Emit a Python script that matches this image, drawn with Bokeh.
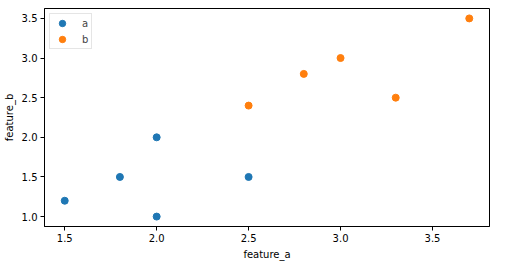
from bokeh.plotting import figure
from bokeh.models import FixedTicker, NumeralTickFormatter, Range1d, Legend, LegendItem
from bokeh.embed import file_html
from bokeh.resources import INLINE

a_x = [1.5, 1.8, 2.0, 2.0, 2.5]
a_y = [1.2, 1.5, 2.0, 1.0, 1.5]
b_x = [2.5, 2.8, 3.0, 3.3, 3.7]
b_y = [2.4, 2.8, 3.0, 2.5, 3.5]
x_ticks = [1.5, 2.0, 2.5, 3.0, 3.5]
y_ticks = [1.0, 1.5, 2.0, 2.5, 3.0, 3.5]

p = figure(width=509, height=268, output_backend="svg", toolbar_location=None,
           x_range=Range1d(1.39, 3.81), y_range=Range1d(0.875, 3.625),
           min_border_left=42, min_border_right=20, min_border_top=8, min_border_bottom=42)
p.xgrid.visible = False
p.ygrid.visible = False
p.outline_line_color = "black"
p.outline_line_width = 1
p.background_fill_color = "white"
p.border_fill_color = "white"

ra = p.scatter(a_x, a_y, size=7, color="#1f77b4", line_color="#1f77b4")
rb = p.scatter(b_x, b_y, size=7, color="#ff7f0e", line_color="#ff7f0e")

for ax, ticks, label in ((p.xaxis[0], x_ticks, "feature_a"), (p.yaxis[0], y_ticks, "feature_b")):
    ax.ticker = FixedTicker(ticks=ticks)
    ax.formatter = NumeralTickFormatter(format="0.0")
    ax.axis_label = label
    ax.axis_label_text_font = "DejaVu Sans"
    ax.axis_label_text_font_size = "10px"
    ax.axis_label_text_font_style = "normal"
    ax.axis_label_text_color = "black"
    ax.major_label_text_font = "DejaVu Sans"
    ax.major_label_text_font_size = "10px"
    ax.major_label_text_color = "black"
    ax.minor_tick_line_color = None
    ax.major_tick_in = 0
    ax.major_tick_out = 4
    ax.axis_line_color = "black"
    ax.major_tick_line_color = "black"
    ax.axis_label_standoff = 4
    ax.major_label_standoff = 3

legend = Legend(items=[LegendItem(label="a", renderers=[ra]), LegendItem(label="b", renderers=[rb])],
                location="top_left")
legend.label_text_font = "DejaVu Sans"
legend.label_text_font_size = "10px"
legend.border_line_color = "#cccccc"
legend.border_line_width = 1
legend.background_fill_alpha = 0.8
legend.margin = 5
legend.padding = 1
legend.spacing = 0
legend.glyph_width = 22
legend.glyph_height = 16
legend.label_height = 16
legend.label_width = 8
legend.label_standoff = 9
p.add_layout(legend)

open("out.html", "w").write(file_html(p, INLINE))
